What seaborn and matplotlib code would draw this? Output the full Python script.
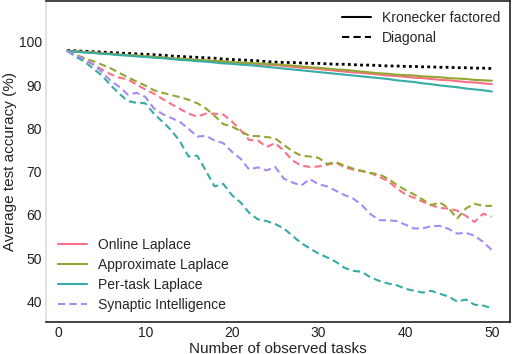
import numpy as np
import pandas as pd
import matplotlib
matplotlib.use("Agg")
import matplotlib.pyplot as plt
import seaborn as sns
from matplotlib.lines import Line2D

tasks = list(range(1, 51))

online_kf = [97.9, 97.8, 97.6, 97.5, 97.3, 97.2, 97.0, 96.9, 96.8, 96.6,
             96.5, 96.3, 96.2, 96.0, 95.9, 95.7, 95.6, 95.4, 95.3, 95.2,
             95.1, 95.0, 94.8, 94.7, 94.6, 94.4, 94.2, 94.0, 93.9, 93.7,
             93.5, 93.3, 93.1, 92.9, 92.8, 92.6, 92.4, 92.2, 92.1, 91.9,
             91.7, 91.6, 91.4, 91.2, 91.1, 90.9, 90.7, 90.6, 90.4, 90.2]
approx_kf = [97.9, 97.8, 97.6, 97.5, 97.3, 97.2, 97.0, 96.9, 96.8, 96.6,
             96.5, 96.4, 96.2, 96.1, 96.0, 95.8, 95.7, 95.6, 95.5, 95.3,
             95.2, 95.1, 95.0, 94.9, 94.8, 94.6, 94.5, 94.3, 94.1, 94.0,
             93.8, 93.6, 93.5, 93.3, 93.1, 92.9, 92.7, 92.6, 92.4, 92.3,
             92.2, 92.0, 91.9, 91.8, 91.6, 91.5, 91.4, 91.2, 91.1, 91.0]
pertask_kf = [97.9, 97.7, 97.5, 97.4, 97.2, 97.1, 96.9, 96.8, 96.6, 96.5,
              96.3, 96.2, 96.0, 95.8, 95.7, 95.5, 95.4, 95.2, 95.0, 94.9,
              94.7, 94.6, 94.4, 94.2, 94.0, 93.8, 93.6, 93.4, 93.2, 93.0,
              92.8, 92.6, 92.4, 92.2, 92.0, 91.8, 91.6, 91.4, 91.1, 90.9,
              90.7, 90.4, 90.2, 89.9, 89.7, 89.5, 89.2, 89.0, 88.8, 88.5]

online_diag = [97.9, 96.9, 95.8, 94.7, 93.6, 92.5, 91.7, 91.3, 90.1, 89.0,
               88.0, 86.8, 85.6, 84.5, 83.4, 82.7, 83.4, 83.4, 83.2, 81.6,
               79.6, 77.3, 77.2, 75.7, 76.6, 74.8, 72.6, 71.4, 71.1, 71.2,
               71.6, 72.1, 71.0, 70.5, 70.1, 69.7, 68.8, 67.9, 66.2, 64.8,
               64.0, 63.1, 62.3, 61.6, 61.5, 61.0, 59.8, 58.4, 60.3, 59.6]
approx_diag = [97.9, 97.0, 96.2, 95.5, 94.7, 93.9, 92.8, 91.8, 90.8, 89.9,
               88.8, 88.2, 87.7, 87.2, 86.6, 85.8, 84.6, 82.9, 81.0, 80.4,
               79.4, 78.3, 78.2, 78.0, 77.7, 76.2, 74.7, 73.7, 73.5, 73.2,
               71.8, 72.2, 71.4, 70.7, 70.2, 69.7, 69.4, 68.4, 67.0, 65.8,
               64.8, 63.6, 62.3, 62.9, 61.6, 59.2, 61.5, 62.6, 62.1, 62.1]
pertask_diag = [97.9, 96.5, 95.4, 93.8, 92.2, 90.0, 88.0, 86.3, 85.9, 85.8,
                83.4, 81.5, 79.6, 77.0, 73.5, 73.7, 70.2, 66.6, 67.2, 64.6,
                62.9, 60.5, 59.0, 58.6, 57.9, 56.9, 55.2, 53.5, 52.3, 51.1,
                50.2, 49.2, 47.8, 47.1, 46.9, 45.6, 44.8, 44.2, 43.8, 43.0,
                42.5, 42.1, 42.5, 41.8, 41.2, 40.0, 40.5, 39.3, 39.1, 38.5]
si_diag = [97.9, 96.8, 96.0, 94.8, 93.0, 91.0, 89.6, 87.8, 88.2, 87.3,
           84.6, 83.3, 82.4, 81.5, 79.9, 78.1, 78.3, 77.2, 76.6, 74.6,
           73.0, 70.5, 71.0, 70.3, 71.1, 68.4, 67.5, 66.8, 68.3, 67.1,
           66.6, 65.6, 64.6, 63.8, 62.3, 60.2, 58.8, 58.8, 58.6, 57.8,
           56.9, 56.9, 57.4, 57.5, 56.8, 55.7, 55.9, 55.2, 53.8, 51.9]
reference_dotted = [98.0, 97.9, 97.8, 97.7, 97.6, 97.5, 97.4, 97.3, 97.2, 97.1,
                    97.0, 96.9, 96.7, 96.6, 96.5, 96.4, 96.3, 96.2, 96.0, 95.9,
                    95.8, 95.7, 95.6, 95.4, 95.3, 95.2, 95.2, 95.1, 95.0, 95.0,
                    94.9, 94.8, 94.8, 94.7, 94.6, 94.6, 94.5, 94.4, 94.4, 94.3,
                    94.3, 94.2, 94.2, 94.1, 94.1, 94.0, 94.0, 93.9, 93.9, 93.8]

methods = ["Online Laplace", "Approximate Laplace", "Per-task Laplace", "Synaptic Intelligence"]
approxs = ["Kronecker factored", "Diagonal"]

sns.set_style("white")
plt.rcParams["font.family"] = ["Liberation Sans", "DejaVu Sans"]

pal = sns.color_palette("husl", 4)
colors = dict(zip(methods, pal))

rows = []
series = [("Online Laplace", "Kronecker factored", online_kf),
          ("Approximate Laplace", "Kronecker factored", approx_kf),
          ("Per-task Laplace", "Kronecker factored", pertask_kf),
          ("Online Laplace", "Diagonal", online_diag),
          ("Approximate Laplace", "Diagonal", approx_diag),
          ("Per-task Laplace", "Diagonal", pertask_diag),
          ("Synaptic Intelligence", "Diagonal", si_diag)]
for m, a, vals in series:
    for t, v in zip(tasks, vals):
        rows.append({"task": t, "acc": v, "method": m, "approx": a})
df = pd.DataFrame(rows)

fig = plt.figure(figsize=(5.16, 3.54), dpi=100)
ax = fig.add_axes([46 / 516, 32 / 354, 464 / 516, 321 / 354])

sns.lineplot(data=pd.DataFrame({"task": tasks, "acc": reference_dotted}),
             x="task", y="acc", color="black", lw=2.0, dashes=(1, 1.2),
             ax=ax, legend=False)
sns.lineplot(data=df, x="task", y="acc", hue="method", style="approx",
             hue_order=methods, style_order=approxs, palette=colors,
             dashes={"Kronecker factored": "", "Diagonal": (3.5, 2)},
             lw=1.5, ax=ax, legend=False)

ax.set_xlim(-1.45, 52.1)
ax.set_ylim(35.3, 109.4)
ax.set_xticks([0, 10, 20, 30, 40, 50])
ax.set_yticks([40, 50, 60, 70, 80, 90, 100])
ax.tick_params(axis="x", length=0, labelsize=10, colors="#222222", pad=3)
ax.tick_params(axis="y", length=0, labelsize=10, colors="#222222", pad=3)
ax.set_xlabel("Number of observed tasks", fontsize=11, color="#222222", labelpad=1)
ax.set_ylabel("Average test accuracy (%)", fontsize=11, color="#222222", labelpad=1)

for s in ["top", "bottom", "right"]:
    ax.spines[s].set_color("#222222")
    ax.spines[s].set_linewidth(1.2)
ax.spines["left"].set_color("#dddddd")
ax.spines["left"].set_linewidth(1.2)

h1 = [Line2D([], [], color=colors[m], lw=1.5) for m in methods[:3]]
h1.append(Line2D([], [], color=colors[methods[3]], lw=1.5, dashes=(3.5, 2)))
leg1 = ax.legend(h1, methods, loc="lower left", frameon=False, fontsize=10,
                 handlelength=2.05, handletextpad=0.8, labelspacing=0.45,
                 borderaxespad=0.3, bbox_to_anchor=(0.005, 0.0))
ax.add_artist(leg1)
h2 = [Line2D([], [], color="black", lw=1.5),
      Line2D([], [], color="black", lw=1.5, dashes=(3.5, 2))]
ax.legend(h2, approxs, loc="upper right", frameon=False, fontsize=10,
          handlelength=2.05, handletextpad=0.8, labelspacing=0.45,
          borderaxespad=0.3, bbox_to_anchor=(1.0, 1.0))

fig.savefig("out.png", dpi=100)
